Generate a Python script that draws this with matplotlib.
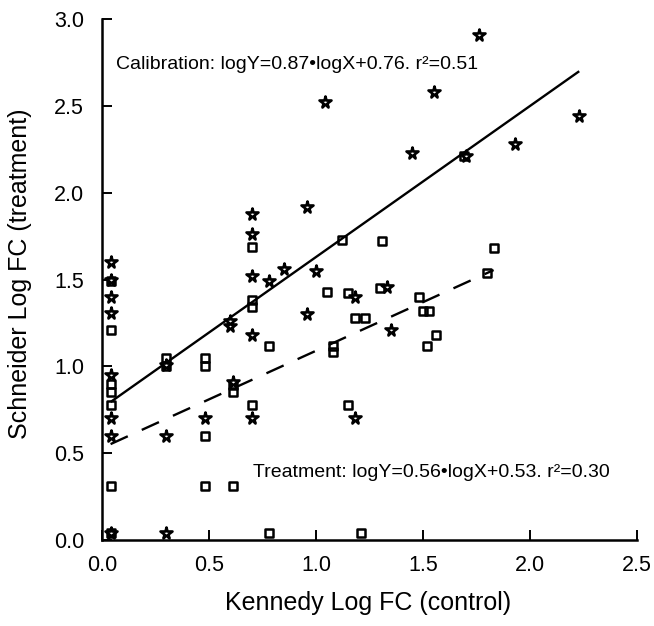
import matplotlib
matplotlib.use("Agg")
import matplotlib.pyplot as plt
from matplotlib.markers import MarkerStyle
import numpy as np

plt.rcParams['font.family'] = ['Liberation Sans', 'DejaVu Sans']

# Calibration group (stars): Kennedy log FC (control) vs Schneider log FC (treatment)
calib_x = [0.04, 0.04, 0.04, 0.04, 0.04, 0.04, 0.04, 0.04,
           0.30, 0.30, 0.30,
           0.48,
           0.60, 0.60, 0.61,
           0.70, 0.70, 0.70, 0.70, 0.70,
           0.78, 0.85, 0.96, 0.96, 1.00, 1.04,
           1.18, 1.18, 1.33, 1.35, 1.45, 1.55,
           1.70, 1.76, 1.93, 2.23]
calib_y = [1.60, 1.50, 1.40, 1.31, 0.95, 0.70, 0.60, 0.04,
           1.01, 0.60, 0.04,
           0.70,
           1.23, 1.26, 0.91,
           1.88, 1.76, 1.52, 1.18, 0.70,
           1.49, 1.56, 1.92, 1.30, 1.55, 2.52,
           1.40, 0.70, 1.46, 1.21, 2.23, 2.58,
           2.21, 2.91, 2.28, 2.44]

# Treatment group (squares)
treat_x = [0.04, 0.04, 0.04, 0.04, 0.04, 0.04, 0.04,
           0.30, 0.30,
           0.48, 0.48, 0.48, 0.48,
           0.61, 0.61, 0.61,
           0.70, 0.70, 0.70, 0.70,
           0.78, 0.78,
           1.05, 1.08, 1.08, 1.12, 1.15, 1.15, 1.18, 1.21, 1.23,
           1.30, 1.31, 1.48, 1.50, 1.52, 1.53, 1.56,
           1.69, 1.80, 1.83]
treat_y = [1.49, 1.21, 0.90, 0.85, 0.78, 0.31, 0.04,
           1.05, 1.00,
           1.05, 1.00, 0.60, 0.31,
           0.89, 0.85, 0.31,
           1.69, 1.38, 1.34, 0.78,
           1.12, 0.04,
           1.43, 1.12, 1.08, 1.73, 1.42, 0.78, 1.28, 0.04, 1.28,
           1.45, 1.72, 1.40, 1.32, 1.12, 1.32, 1.18,
           2.21, 1.54, 1.68]

# Regression equations printed on the chart
calib_slope, calib_intercept = 0.87, 0.76
treat_slope, treat_intercept = 0.56, 0.53

calib_text = "Calibration: logY=0.87\u2022logX+0.76. r\u00b2=0.51"
treat_text = "Treatment: logY=0.56\u2022logX+0.53. r\u00b2=0.30"

x_ticks = [0.0, 0.5, 1.0, 1.5, 2.0, 2.5]
y_ticks = [0.0, 0.5, 1.0, 1.5, 2.0, 2.5, 3.0]

fig = plt.figure(figsize=(6.54, 6.26), dpi=100)
ax = fig.add_axes([0.156, 0.1374, 0.818, 0.832])

square = MarkerStyle('s', joinstyle='round')
ax.plot(treat_x, treat_y, linestyle='none', marker=square, markersize=6.2,
        markerfacecolor='none', markeredgecolor='black', markeredgewidth=1.8,
        clip_on=False, zorder=3)
star = MarkerStyle('*', joinstyle='round')
ax.plot(calib_x, calib_y, linestyle='none', marker=star, markersize=8.5,
        markerfacecolor='white', markeredgecolor='black', markeredgewidth=1.9,
        clip_on=False, zorder=4)

# Fitted lines over each group's x-range
cx = np.array([min(calib_x), max(calib_x)])
ax.plot(cx, calib_slope * cx + calib_intercept, color='black', lw=1.7,
        solid_capstyle='butt', zorder=2)
tx = np.array([min(treat_x), max(treat_x)])
ax.plot(tx, treat_slope * tx + treat_intercept, color='black', lw=1.7,
        dashes=(8.0, 6.5), dash_capstyle='butt', zorder=2)

ax.text(0.065, 2.74, calib_text, fontsize=14, ha='left', va='center')
ax.text(0.706, 0.39, treat_text, fontsize=14, ha='left', va='center')

ax.set_xlim(0, 2.5)
ax.set_ylim(0, 3.0)
ax.set_xticks(x_ticks)
ax.set_yticks(y_ticks)
ax.set_xticklabels([f"{v:.1f}" for v in x_ticks])
ax.set_yticklabels([f"{v:.1f}" for v in y_ticks])

for side in ('top', 'right'):
    ax.spines[side].set_visible(False)
for side in ('left', 'bottom'):
    ax.spines[side].set_linewidth(1.8)

ax.tick_params(axis='both', direction='in', length=7, width=1.4,
               labelsize=15.5)
ax.tick_params(axis='x', pad=11)
ax.tick_params(axis='y', pad=13)

ax.set_xlabel("Kennedy Log FC (control)", fontsize=18, va='center')
ax.xaxis.set_label_coords(0.498, -0.121)
ax.set_ylabel("Schneider Log FC (treatment)", fontsize=18, va='center')
ax.yaxis.set_label_coords(-0.153, 0.512)

fig.savefig("out.png", dpi=100)
